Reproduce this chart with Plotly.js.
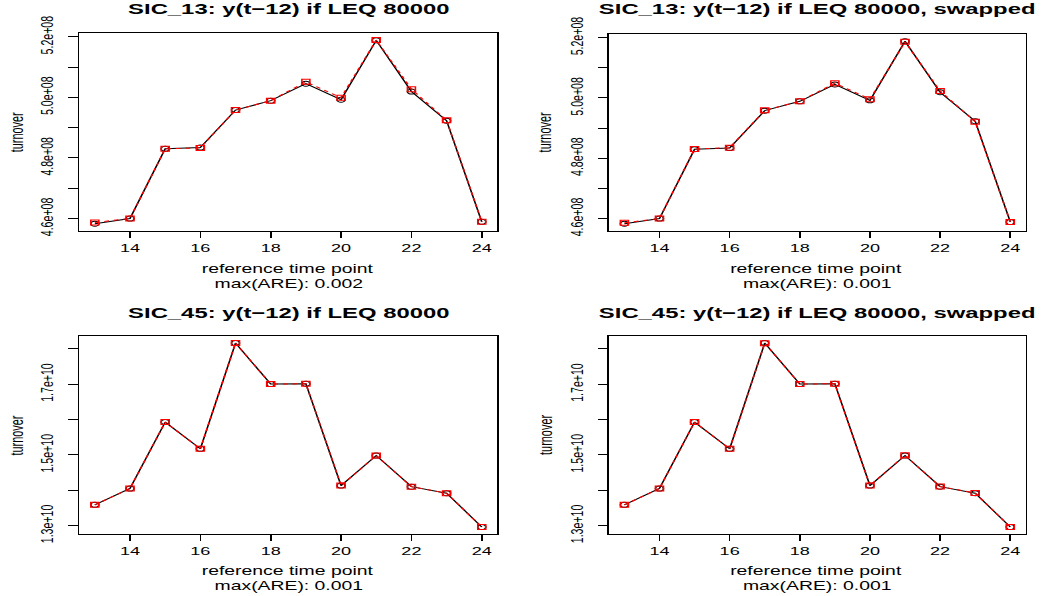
<!DOCTYPE html>
<html>
<head>
<meta charset="utf-8">
<script src="https://cdn.plot.ly/plotly-3.0.1.min.js"></script>
<style>
  html, body { margin: 0; padding: 0; background: #ffffff; overflow: hidden; }
  #wrap { width: 1044px; height: 596px; overflow: hidden; }
  #chart { width: 652px; height: 596px; transform: scaleX(1.6012); transform-origin: 0 0; }
</style>
</head>
<body>
<div id="wrap"><div id="chart"></div></div>
<script>
// ---- data ----
const timePoints = [13, 14, 15, 16, 17, 18, 19, 20, 21, 22, 23, 24];

const sic13Actual        = [4.583e8, 4.600e8, 4.830e8, 4.834e8, 4.958e8, 4.989e8, 5.045e8, 4.992e8, 5.188e8, 5.019e8, 4.923e8, 4.589e8];
const sic13Estimated     = [4.587e8, 4.600e8, 4.830e8, 4.833e8, 4.958e8, 4.989e8, 5.051e8, 4.999e8, 5.189e8, 5.027e8, 4.924e8, 4.589e8];
const sic13EstimatedSwap = [4.586e8, 4.600e8, 4.831e8, 4.835e8, 4.959e8, 4.989e8, 5.049e8, 4.996e8, 5.186e8, 5.023e8, 4.921e8, 4.589e8];

const sic45Actual        = [1.3585e10, 1.4047e10, 1.5925e10, 1.5170e10, 1.8160e10, 1.7000e10, 1.7010e10, 1.4130e10, 1.4980e10, 1.4100e10, 1.3915e10, 1.2960e10];
const sic45Estimated     = [1.3585e10, 1.4047e10, 1.5925e10, 1.5170e10, 1.8160e10, 1.7000e10, 1.7010e10, 1.4130e10, 1.4980e10, 1.4100e10, 1.3915e10, 1.2960e10];
const sic45EstimatedSwap = [1.3585e10, 1.4047e10, 1.5925e10, 1.5170e10, 1.8155e10, 1.7000e10, 1.7010e10, 1.4135e10, 1.4985e10, 1.4105e10, 1.3920e10, 1.2960e10];

const xTickVals = [14, 16, 18, 20, 22, 24];
const sic13TickVals = [4.6e8, 4.7e8, 4.8e8, 4.9e8, 5.0e8, 5.1e8, 5.2e8];
const sic13TickText = ['4.6e+08', '', '4.8e+08', '', '5.0e+08', '', '5.2e+08'];
const sic45TickVals = [1.3e10, 1.4e10, 1.5e10, 1.6e10, 1.7e10, 1.8e10];
const sic45TickText = ['1.3e+10', '', '1.5e+10', '', '1.7e+10', ''];

const panelTitles = [
  'SIC_13: y(t\u221212) if LEQ 80000',
  'SIC_13: y(t\u221212) if LEQ 80000, swapped',
  'SIC_45: y(t\u221212) if LEQ 80000',
  'SIC_45: y(t\u221212) if LEQ 80000, swapped'
];
const xLabel = 'reference time point';
const areLabels = ['max(ARE): 0.002', 'max(ARE): 0.001', 'max(ARE): 0.001', 'max(ARE): 0.001'];
const yLabel = 'turnover';

// ---- layout helpers ----
const W = 652, H = 596;
const FONT = 'Liberation Sans, Arial, Helvetica, sans-serif';
const panels = [
  { act: sic13Actual, est: sic13Estimated,     tv: sic13TickVals, tt: sic13TickText, xd: [0.0760, 0.4763], yd: [0.6124, 0.9451] },
  { act: sic13Actual, est: sic13EstimatedSwap, tv: sic13TickVals, tt: sic13TickText, xd: [0.5833, 0.9825], yd: [0.6124, 0.9430] },
  { act: sic45Actual, est: sic45Estimated,     tv: sic45TickVals, tt: sic45TickText, xd: [0.0760, 0.4763], yd: [0.1035, 0.4367] },
  { act: sic45Actual, est: sic45EstimatedSwap, tv: sic45TickVals, tt: sic45TickText, xd: [0.5833, 0.9825], yd: [0.1035, 0.4367] }
];
const titleY = [9, 9, 313, 313];
const lab1Y = [269.3, 269.3, 571.3, 571.3];
const lab2Y = [284.2, 284.2, 586.2, 586.2];
const turnoverX = [0.016, 0.5228, 0.016, 0.5228];

function extRange(vals) {
  const mn = Math.min(...vals), mx = Math.max(...vals);
  const d = (mx - mn) * 0.04;
  return [mn - d, mx + d];
}

const traces = [];
const layout = {
  width: W, height: H,
  margin: { l: 0, r: 0, t: 0, b: 0 },
  paper_bgcolor: '#ffffff', plot_bgcolor: '#ffffff',
  showlegend: false,
  font: { family: FONT, color: '#000000' },
  annotations: []
};

panels.forEach((p, i) => {
  const n = i + 1;
  const xa = 'x' + (n === 1 ? '' : n), ya = 'y' + (n === 1 ? '' : n);
  traces.push({
    x: timePoints, y: p.act, xaxis: xa, yaxis: ya, type: 'scatter', mode: 'lines+markers',
    line: { color: '#000000', width: 1 },
    marker: { symbol: 'circle-open', size: 5, color: '#000000', line: { width: 1, color: '#000000' } },
    hoverinfo: 'skip'
  });
  traces.push({
    x: timePoints, y: p.est, xaxis: xa, yaxis: ya, type: 'scatter', mode: 'lines+markers',
    line: { color: '#ff0000', width: 1, dash: '3px,3px' },
    marker: { symbol: 'square-open', size: 5, color: '#ff0000', line: { width: 1, color: '#ff0000' } },
    hoverinfo: 'skip'
  });
  const xKey = 'xaxis' + (n === 1 ? '' : n), yKey = 'yaxis' + (n === 1 ? '' : n);
  layout[xKey] = {
    domain: p.xd, anchor: ya, range: extRange(timePoints),
    tickmode: 'array', tickvals: xTickVals, ticktext: xTickVals.map(String),
    ticks: 'outside', ticklen: 6, tickwidth: 1, tickcolor: '#000000',
    showline: true, linecolor: '#000000', linewidth: 1, mirror: true,
    showgrid: false, zeroline: false,
    tickfont: { family: FONT, size: 11.3, color: '#000000' }
  };
  layout[yKey] = {
    domain: p.yd, anchor: xa, range: extRange(p.act.concat(p.est)),
    tickmode: 'array', tickvals: p.tv, ticktext: p.tt, tickangle: -90,
    ticks: 'outside', ticklen: 6, tickwidth: 1, tickcolor: '#000000',
    ticklabelstandoff: 5,
    showline: true, linecolor: '#000000', linewidth: 1, mirror: true,
    showgrid: false, zeroline: false,
    tickfont: { family: FONT, size: 10.6, color: '#000000' }
  };
  const cx = (p.xd[0] + p.xd[1]) / 2;
  const cy = (p.yd[0] + p.yd[1]) / 2;
  layout.annotations.push({
    text: panelTitles[i], xref: 'paper', yref: 'paper', x: cx, y: 1 - titleY[i] / H,
    xanchor: 'center', yanchor: 'middle', showarrow: false,
    font: { family: FONT, size: 14.9, color: '#000000', weight: 'bold' }
  });
  layout.annotations.push({
    text: xLabel, xref: 'paper', yref: 'paper', x: cx, y: 1 - lab1Y[i] / H,
    xanchor: 'center', yanchor: 'middle', showarrow: false,
    font: { family: FONT, size: 12.1, color: '#000000' }
  });
  layout.annotations.push({
    text: areLabels[i], xref: 'paper', yref: 'paper', x: cx, y: 1 - lab2Y[i] / H,
    xanchor: 'center', yanchor: 'middle', showarrow: false,
    font: { family: FONT, size: 12.1, color: '#000000' }
  });
  layout.annotations.push({
    text: yLabel, xref: 'paper', yref: 'paper', x: turnoverX[i], y: cy,
    xanchor: 'center', yanchor: 'middle', showarrow: false, textangle: -90,
    font: { family: FONT, size: 10.9, color: '#000000' }
  });
});

Plotly.newPlot('chart', traces, layout, { displayModeBar: false, staticPlot: true });
</script>
</body>
</html>
